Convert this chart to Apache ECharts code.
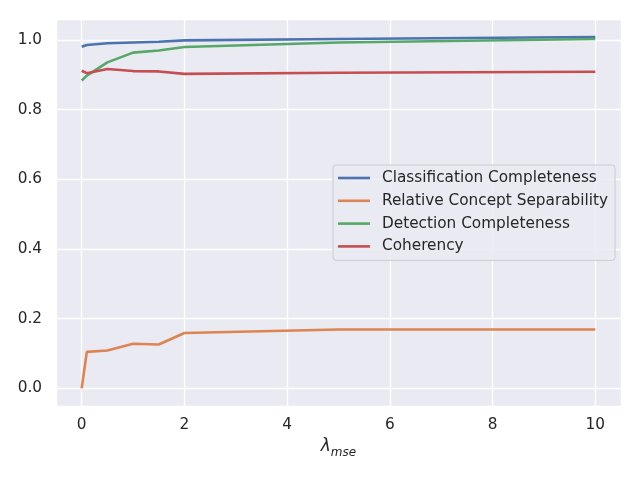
<!DOCTYPE html>
<html>
<head>
<meta charset="utf-8">
<script src="https://cdn.jsdelivr.net/npm/echarts@6/dist/echarts.min.js"></script>
<style>html,body{margin:0;padding:0;background:#fff;}#c{width:640px;height:480px;}</style>
</head>
<body>
<div id="c"></div>
<script>
const lambdaValues = [0, 0.1, 0.5, 1, 1.5, 2, 5, 10];
const classificationCompleteness = [0.981, 0.986, 0.991, 0.993, 0.995, 0.999, 1.003, 1.009];
const relativeConceptSeparability = [0.0, 0.105, 0.109, 0.128, 0.126, 0.159, 0.169, 0.169];
const detectionCompleteness = [0.884, 0.898, 0.936, 0.964, 0.970, 0.980, 0.993, 1.003];
const coherency = [0.912, 0.905, 0.917, 0.911, 0.910, 0.903, 0.906, 0.909];
const seriesNames = ['Classification Completeness', 'Relative Concept Separability', 'Detection Completeness', 'Coherency'];
const seriesColors = ['#4C72B0', '#DD8452', '#55A868', '#C44E52'];
const seriesValues = [classificationCompleteness, relativeConceptSeparability, detectionCompleteness, coherency];

const FONT = 'DejaVu Sans';
const TXT = '#262626';
const chart = echarts.init(document.getElementById('c'), null, {renderer: 'canvas'});
chart.setOption({
  animation: false,
  backgroundColor: '#ffffff',
  grid: {left: 56, right: 19, top: 19, bottom: 74, show: true, backgroundColor: '#EAEAF2', borderWidth: 0},
  xAxis: {
    type: 'value', min: -0.5, max: 10.5,
    axisLine: {show: false}, axisTick: {show: false},
    splitLine: {show: true, lineStyle: {color: '#ffffff', width: 1.3}},
    axisLabel: {showMinLabel: false, showMaxLabel: false, margin: 12, color: TXT, fontFamily: FONT, fontSize: 15.3,
      formatter: v => String(Math.round(v))},
    name: '{a|λ}{b|mse}', nameLocation: 'middle', nameGap: 32,
    nameTextStyle: {color: TXT, fontFamily: FONT,
      rich: {a: {fontSize: 17, fontStyle: 'italic', fontFamily: FONT, color: TXT, verticalAlign: 'bottom'},
             b: {fontSize: 12, fontStyle: 'italic', fontFamily: FONT, color: TXT, verticalAlign: 'bottom', padding: [0,0,-4,0]}}}
  },
  yAxis: {
    type: 'value', min: -0.0505, max: 1.0605,
    axisLine: {show: false}, axisTick: {show: false},
    splitLine: {show: true, lineStyle: {color: '#ffffff', width: 1.3}},
    axisLabel: {showMinLabel: false, showMaxLabel: false, margin: 14, color: TXT, fontFamily: FONT, fontSize: 15.3,
      formatter: v => v.toFixed(1)}
  },
  legend: {
    orient: 'vertical', left: 333, top: 165,
    data: seriesNames,
    icon: 'rect',
    itemWidth: 32, itemHeight: 2.6, itemGap: 6.8,
    padding: [5, 7, 6, 5],
    backgroundColor: 'rgba(234,234,242,0.85)', borderColor: '#cccccc', borderWidth: 1, borderRadius: 3,
    textStyle: {color: TXT, fontFamily: FONT, fontSize: 15.3, lineHeight: 16, padding: [0, 0, 0, 7]}
  },
  series: seriesNames.map((name, i) => ({
    name: name, type: 'line', symbol: 'none', showSymbol: false,
    color: seriesColors[i],
    lineStyle: {width: 2.6, color: seriesColors[i]},
    data: lambdaValues.map((x, j) => [x, seriesValues[i][j]])
  }))
});
</script>
</body>
</html>
